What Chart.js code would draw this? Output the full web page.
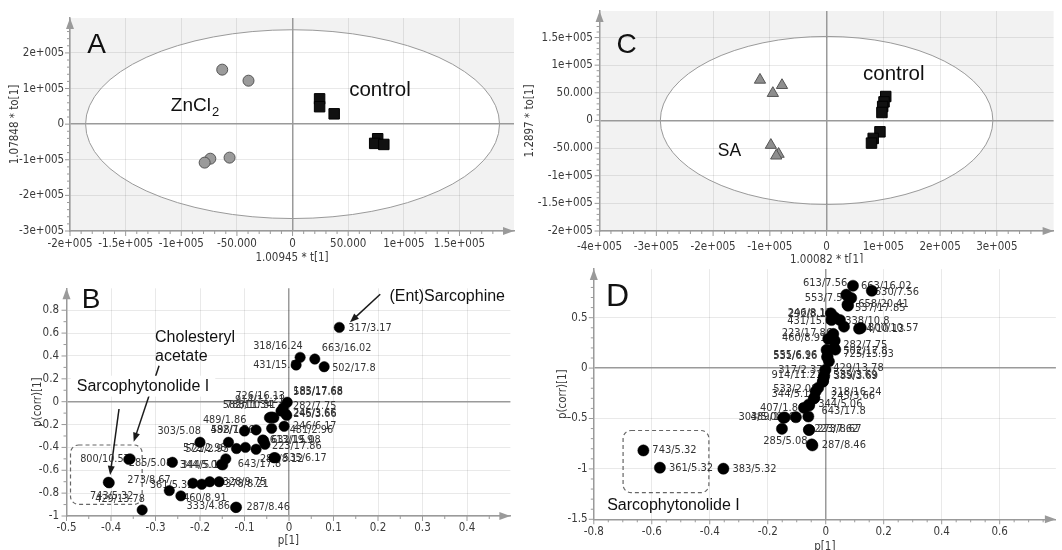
<!DOCTYPE html>
<html><head><meta charset="utf-8">
<script src="https://cdn.jsdelivr.net/npm/chart.js@4.4.0/dist/chart.umd.min.js"></script>
<style>
html,body{margin:0;padding:0;background:#fff;width:1062px;height:550px;overflow:hidden;}
canvas{position:absolute;}
</style></head><body>
<canvas id="cA" width="530" height="270" style="left:0;top:0"></canvas>
<canvas id="cB" width="530" height="280" style="left:0;top:270px"></canvas>
<canvas id="cC" width="547" height="263" style="left:515px;top:0"></canvas>
<canvas id="cD" width="532" height="287" style="left:530px;top:263px"></canvas>
<script>
// ---------- DATA ----------
// Panel A (OPLS-DA scores, ZnCl2 vs control)
const aZnX = [-63200, -39600, -73900, -79000, -56600];
const aZnY = [153000, 122000, -97000, -108000, -94000];
const aCtrlX = [24300, 24300, 37400, 76500, 73800, 82000];
const aCtrlY = [71000, 49000, 29000, -41000, -54000, -57000];
const aXTicks = [-200000, -150000, -100000, -50000, 0, 50000, 100000, 150000];
const aXTickLabels = ['-2e+005', '-1.5e+005', '-1e+005', '-50.000', '0', '50.000', '1e+005', '1.5e+005'];
const aYTicks = [-300000, -200000, -100000, 0, 100000, 200000];
const aYTickLabels = ['-3e+005', '-2e+005', '-1e+005', '0', '1e+005', '2e+005'];

// Panel C (OPLS-DA scores, SA vs control)
const cSaX = [-117400, -78600, -94700, -98200, -84600, -88800];
const cSaY = [73300, 63700, 49300, -44600, -60800, -63900];
const cCtrlX = [104200, 101200, 98800, 97500, 94000, 82100, 79100];
const cCtrlY = [43300, 33600, 25300, 14400, -20600, -32500, -41000];
const cXTicks = [-400000, -300000, -200000, -100000, 0, 100000, 200000, 300000];
const cXTickLabels = ['-4e+005', '-3e+005', '-2e+005', '-1e+005', '0', '1e+005', '2e+005', '3e+005'];
const cYTicks = [-200000, -150000, -100000, -50000, 0, 50000, 100000, 150000];
const cYTickLabels = ['-2e+005', '-1.5e+005', '-1e+005', '-50.000', '0', '50.000', '1e+005', '1.5e+005'];

// Panel B (S-plot, ZnCl2)
const bX = [0.113, 0.025, 0.058, 0.016, 0.079, -0.004, -0.013, -0.018, -0.007, -0.005, -0.044, -0.034, -0.041, -0.037, -0.011, -0.039, -0.100, -0.074, -0.059, -0.054, -0.057, -0.200, -0.136, -0.118, -0.098, -0.074, -0.031, -0.034, -0.142, -0.149, -0.152, -0.216, -0.196, -0.178, -0.157, -0.357, -0.360, -0.262, -0.406, -0.404, -0.269, -0.243, -0.330, -0.118, -0.120];
const bY = [0.65, 0.388, 0.373, 0.321, 0.306, -0.005, -0.052, -0.081, -0.11, -0.12, -0.14, -0.14, -0.135, -0.135, -0.215, -0.233, -0.256, -0.247, -0.335, -0.372, -0.34, -0.355, -0.355, -0.41, -0.40, -0.416, -0.49, -0.49, -0.50, -0.553, -0.548, -0.713, -0.722, -0.70, -0.70, -0.50, -0.505, -0.53, -0.705, -0.71, -0.778, -0.824, -0.947, -0.923, -0.925];
const bLabels = ['317/3.17', '318/16.24', '663/16.02', '431/15.8', '502/17.8', '585/17.68', '183/17.68', '282/7.75', '246/3.66', '245/3.66', '726/16.13', '914/11.21', '582/11.34', '788/10.31', '246/6.17', '481/2.96', '482/7.5', '598/1.86', '613/19.9', '223/17.86', '632/15.08', '303/5.08', '489/1.86', '572/2.98', '521/2.93', '', '535/6.17', '287/8.12', '643/17.8', '344/5.06', '344/5.1', '361/5.32', '', '328/9.75', '378/8.21', '800/10.57', '285/5.08', '', '743/5.32', '429/13.78', '273/8.67', '460/8.91', '', '287/8.46', '333/4.86'];
const bXTicks = [-0.5, -0.4, -0.3, -0.2, -0.1, 0, 0.1, 0.2, 0.3, 0.4];
const bXTickLabels = ['-0.5', '-0.4', '-0.3', '-0.2', '-0.1', '0', '0.1', '0.2', '0.3', '0.4'];
const bYTicks = [-1, -0.8, -0.6, -0.4, -0.2, 0, 0.2, 0.4, 0.6, 0.8];
const bYTickLabels = ['-1', '-0.8', '-0.6', '-0.4', '-0.2', '0', '0.2', '0.4', '0.6', '0.8'];

// Panel D (S-plot, SA)
const dX = [0.094, 0.159, 0.071, 0.088, 0.075, 0.077, 0.018, 0.031, 0.020, 0.049, 0.063, 0.121, 0.115, 0.026, 0.009, 0.031, 0.029, 0.033, 0.003, 0.006, 0.005, 0.011, -0.001, -0.005, -0.007, -0.009, -0.010, -0.026, -0.035, -0.039, -0.041, -0.058, -0.057, -0.075, -0.060, -0.103, -0.146, -0.142, -0.151, -0.058, -0.057, -0.046, -0.048, -0.629, -0.572, -0.353];
const dY = [0.817, 0.767, 0.728, 0.695, 0.629, 0.619, 0.543, 0.503, 0.477, 0.477, 0.411, 0.398, 0.391, 0.339, 0.289, 0.272, 0.200, 0.183, 0.180, 0.114, 0.109, 0.067, -0.018, -0.074, -0.094, -0.131, -0.134, -0.196, -0.233, -0.295, -0.302, -0.361, -0.371, -0.394, -0.480, -0.487, -0.493, -0.490, -0.602, -0.612, -0.614, -0.767, -0.757, -0.817, -0.988, -0.998];
const dLabels = ['663/16.02', '630/7.56', '613/7.56', '553/7.56', '658/20.41', '537/17.85', '246/8.12', '292/8.10', '431/15.8', '', '338/10.8', '800/10.57', '744/10.13', '', '223/17.86', '460/8.91', '282/7.75', '502/17.8', '725/15.93', '555/6.96', '531/6.16', '', '429/13.78', '317/2.37', '914/11.21', '535/3.69', '389/3.69', '533/2.08', '344/5.1', '318/16.24', '245/3.66', '344/5.06', '643/17.8', '407/1.86', '', '', '303/5.08', '489/1.86', '', '223/7.62', '273/8.67', '287/8.46', '285/5.08', '743/5.32', '361/5.32', '383/5.32'];
const dXTicks = [-0.8, -0.6, -0.4, -0.2, 0, 0.2, 0.4, 0.6];
const dXTickLabels = ['-0.8', '-0.6', '-0.4', '-0.2', '0', '0.2', '0.4', '0.6'];
const dYTicks = [-1.5, -1, -0.5, 0, 0.5];
const dYTickLabels = ['-1.5', '-1', '-0.5', '0', '0.5'];

// ---------- label placement (pixel offsets of each point label, style only) ----------
const bLabelOffsets = [[9,1],[-47,-11],[7,-11],[-43,0],[8,1],[6,-10.5],[10,-16],[12,-5],[7,-1],[6.5,-1.5],[-34,-22],[-39,-18],[-48,-12],[-46.5,-11.6],[9,0],[18,2],[-34,-1],[-45,0.5],[7,0],[7,2],[7.5,0],[-42.6,-10.6],[-25.6,-22.3],[-53.4,0],[-60,1.3],[0,0],[8,0],[-14,1.3],[12,5],[-43,0],[-40,1],[-43,2],[0,0],[13,0.5],[6,2],[-50,0],[0,3.3],[0,0],[-18.3,13.7],[-14,16],[-42,-10.7],[2.3,2.3],[0,0],[10,0],[-49,-1]];
const dLabelOffsets = [[8,0],[3,1],[-43.3,-11.3],[-46.6,0],[10.7,-0.7],[7,2],[-43.4,0],[-46.7,-3.2],[-44.3,0.7],[0,0],[1.3,-6],[7.3,0],[-5.3,0.3],[0,0],[-46.7,-5.6],[-52.7,-2.3],[9,-2.3],[8,1],[16.7,4],[-54.3,-1],[-54,-0.5],[0,0],[7.7,-2],[-46,-5.7],[-52.2,-2],[10,-5.7],[11,-5],[-45,1],[-44,2.3],[16.7,-5.6],[17,-2],[9.3,-0.7],[12.3,5.7],[-44,0],[0,0],[0,0],[-45,-0.6],[-34,0],[0,0],[5.3,-1],[8,-0.5],[9.3,0],[-48.5,-3],[9,0],[9,0],[9,0]];

// ---------- rendering ----------
const NARROW = '"Liberation Sans Narrow","Arial Narrow","DejaVu Sans Condensed",sans-serif';
const SANS = '"Liberation Sans",Arial,sans-serif';
const AXIS = '#9a9a9a';
const zip = (xs, ys) => xs.map((x, i) => ({x: x, y: ys[i]}));

function makePlugin(c) {
  return {
    id: 'annot',
    beforeDraw(chart) {
      const {ctx, chartArea: a, scales: {x, y}} = chart;
      ctx.save();
      if (c.bg) { ctx.fillStyle = c.bg; ctx.fillRect(a.left, a.top, a.right - a.left, a.bottom - a.top); }
      if (c.ellipse) {
        const cx = x.getPixelForValue(0), cy = y.getPixelForValue(0);
        const rx = Math.abs(x.getPixelForValue(c.ellipse[0]) - cx), ry = Math.abs(y.getPixelForValue(c.ellipse[1]) - cy);
        ctx.beginPath(); ctx.ellipse(cx, cy, rx, ry, 0, 0, 2 * Math.PI); ctx.fillStyle = '#fff'; ctx.fill();
      }
      ctx.restore();
    },
    beforeDatasetsDraw(chart) {
      const {ctx, scales: {x, y}} = chart;
      const X = v => x.getPixelForValue(v), Y = v => y.getPixelForValue(v);
      ctx.save();
      if (c.ellipse) {
        const cx = X(0), cy = Y(0);
        ctx.beginPath(); ctx.ellipse(cx, cy, Math.abs(X(c.ellipse[0]) - cx), Math.abs(Y(c.ellipse[1]) - cy), 0, 0, 2 * Math.PI);
        ctx.strokeStyle = '#9a9a9a'; ctx.lineWidth = 1; ctx.stroke();
      }
      (c.boxes || []).forEach(b => {
        const x1 = X(b[0]), x2 = X(b[1]), y1 = Y(b[2]), y2 = Y(b[3]);
        ctx.beginPath(); ctx.setLineDash([4, 3]); ctx.strokeStyle = '#666'; ctx.lineWidth = 1.2;
        ctx.roundRect(Math.min(x1, x2), Math.min(y1, y2), Math.abs(x2 - x1), Math.abs(y2 - y1), 8);
        ctx.stroke(); ctx.setLineDash([]);
      });
      (c.arrows || []).forEach(r => {
        const x1 = X(r[0]), y1 = Y(r[1]), x2 = X(r[2]), y2 = Y(r[3]);
        const ang = Math.atan2(y2 - y1, x2 - x1), L = 9, W = 3.5;
        ctx.strokeStyle = '#1a1a1a'; ctx.fillStyle = '#1a1a1a'; ctx.lineWidth = 1.5;
        ctx.beginPath(); ctx.moveTo(x1, y1); ctx.lineTo(x2 - Math.cos(ang) * L * 0.8, y2 - Math.sin(ang) * L * 0.8); ctx.stroke();
        ctx.beginPath(); ctx.moveTo(x2, y2);
        ctx.lineTo(x2 - Math.cos(ang) * L + Math.sin(ang) * W, y2 - Math.sin(ang) * L - Math.cos(ang) * W);
        ctx.lineTo(x2 - Math.cos(ang) * L - Math.sin(ang) * W, y2 - Math.sin(ang) * L + Math.cos(ang) * W);
        ctx.closePath(); ctx.fill();
      });
      (c.texts || []).forEach(t => {
        ctx.font = t.size + 'px ' + SANS; ctx.textAlign = 'left'; ctx.textBaseline = 'alphabetic';
        const px = X(t.x), py = Y(t.y);
        const w = ctx.measureText(t.t).width;
        if (t.bg) { ctx.fillStyle = t.bg; ctx.fillRect(px - 6, py - t.size * 0.95, w + 12, t.size * 1.3); }
        ctx.fillStyle = '#111'; ctx.fillText(t.t, px, py);
        if (t.sub) { ctx.font = Math.round(t.size * 0.68) + 'px ' + SANS; ctx.fillText(t.sub, px + w + 1, py + t.size * 0.28); }
      });
      if (c.pl) {
        ctx.font = c.pl.size + 'px ' + NARROW; ctx.fillStyle = '#333'; ctx.textAlign = 'left'; ctx.textBaseline = 'middle';
        c.pl.xs.forEach((v, i) => {
          const s = c.pl.labels[i]; if (!s) return;
          const o = c.pl.off[i];
          ctx.fillText(s, X(v) + o[0], Y(c.pl.ys[i]) + o[1]);
        });
      }
      ctx.restore();
    },
    afterDraw(chart) {
      const {ctx, chartArea: a, scales: {x, y}} = chart;
      ctx.save();
      ctx.strokeStyle = AXIS; ctx.lineWidth = 1;
      const mt = (scale, step, sub, isX) => {
        const ms = step / sub;
        const start = Math.ceil(scale.min / ms - 1e-6);
        const end = Math.floor(scale.max / ms + 1e-6);
        for (let k = start; k <= end; k++) {
          const p = scale.getPixelForValue(k * ms);
          const len = (k % sub === 0) ? 5 : 3;
          ctx.beginPath();
          if (isX) { if (p > a.right - 12) continue; ctx.moveTo(p, a.bottom); ctx.lineTo(p, a.bottom + len); }
          else { if (p < a.top + 12) continue; ctx.moveTo(a.left - len, p); ctx.lineTo(a.left, p); }
          ctx.stroke();
        }
      };
      mt(x, c.xStep, c.xSub, true);
      mt(y, c.yStep, c.ySub, false);
      ctx.fillStyle = AXIS;
      ctx.beginPath(); ctx.moveTo(a.left, a.top); ctx.lineTo(a.left - 4, a.top + 11); ctx.lineTo(a.left + 4, a.top + 11); ctx.closePath(); ctx.fill();
      ctx.beginPath(); ctx.moveTo(a.right, a.bottom); ctx.lineTo(a.right - 11, a.bottom - 4); ctx.lineTo(a.right - 11, a.bottom + 4); ctx.closePath(); ctx.fill();
      ctx.restore();
    }
  };
}

function makeChart(id, c) {
  const grid = {
    color: g => (g.tick && g.tick.value === 0) ? AXIS : 'rgba(0,0,0,0.085)',
    lineWidth: g => (g.tick && g.tick.value === 0) ? 1.5 : 1,
    drawTicks: false
  };
  const tickFont = {family: NARROW, size: 11.5};
  return new Chart(document.getElementById(id), {
    type: 'scatter',
    data: {datasets: c.datasets},
    options: {
      responsive: false, animation: false, devicePixelRatio: 1, events: [],
      layout: {padding: {left: 0, top: c.padTop, right: c.padRight, bottom: 0}},
      plugins: {legend: {display: false}, tooltip: {enabled: false}},
      scales: {
        x: {
          type: 'linear', min: c.xMin, max: c.xMax,
          afterBuildTicks: s => { s.ticks = c.xTicks.map(v => ({value: v})); },
          afterFit: s => { s.height = c.xH; s.paddingLeft = 0; s.paddingRight = 0; },
          ticks: {callback: (v, i) => c.xTickLabels[i], font: tickFont, color: '#3a3a3a', padding: c.xTickPad, maxRotation: 0, autoSkip: false},
          grid: grid,
          border: {color: AXIS, width: 1.5},
          title: {display: true, text: c.xTitle, font: tickFont, color: '#3a3a3a', padding: {top: 0, bottom: c.xTitlePad}}
        },
        y: {
          type: 'linear', min: c.yMin, max: c.yMax,
          afterBuildTicks: s => { s.ticks = c.yTicks.map(v => ({value: v})); },
          afterFit: s => { s.width = c.yW; s.paddingTop = 0; s.paddingBottom = 0; },
          ticks: {callback: (v, i) => c.yTickLabels[i], font: tickFont, color: '#3a3a3a', padding: c.yTickPad, autoSkip: false},
          grid: grid,
          border: {color: AXIS, width: 1.5},
          title: {display: true, text: c.yTitle, font: tickFont, color: '#3a3a3a', padding: {top: c.yTitlePad, bottom: 0}}
        }
      }
    },
    plugins: [makePlugin(c)]
  });
}

// Panel A
makeChart('cA', {
  xMin: -200000, xMax: 199000, yMin: -300000, yMax: 298000,
  xTicks: aXTicks, xTickLabels: aXTickLabels, yTicks: aYTicks, yTickLabels: aYTickLabels,
  padTop: 18, padRight: 16, yW: 70, xH: 39, xTickPad: 6.4, yTickPad: 5.8, xTitlePad: 5.1, yTitlePad: 8.1,
  xTitle: '1.00945 * t[1]', yTitle: '1.07848 * to[1]',
  xStep: 50000, xSub: 5, yStep: 100000, ySub: 5,
  bg: '#f2f2f2', ellipse: [186000, 265000],
  texts: [
    {t: 'A', x: -184500, y: 200000, size: 28},
    {t: 'ZnCl', sub: '2', x: -109400, y: 36400, size: 19},
    {t: 'control', x: 50900, y: 78400, size: 20.5}
  ],
  datasets: [
    {data: zip(aZnX, aZnY), pointStyle: 'circle', pointRadius: 5.5, backgroundColor: '#9b9b9b', borderColor: '#555', borderWidth: 1},
    {data: zip(aCtrlX, aCtrlY), pointStyle: 'rect', pointRadius: 7.4, backgroundColor: '#111', borderColor: '#000', borderWidth: 1}
  ]
});

// Panel C
makeChart('cC', {
  xMin: -400000, xMax: 400000, yMin: -200000, yMax: 198000,
  xTicks: cXTicks, xTickLabels: cXTickLabels, yTicks: cYTicks, yTickLabels: cYTickLabels,
  padTop: 11, padRight: 6, yW: 84.6, xH: 32, xTickPad: 8.8, yTickPad: 6.8, xTitlePad: -3.9, yTitlePad: 8.1,
  xTitle: '1.00082 * t[1]', yTitle: '1.2897 * to[1]',
  xStep: 100000, xSub: 5, yStep: 50000, ySub: 5,
  bg: '#f2f2f2', ellipse: [293000, 152000],
  texts: [
    {t: 'C', x: -370400, y: 122700, size: 28},
    {t: 'control', x: 64200, y: 72700, size: 20.5},
    {t: 'SA', x: -191800, y: -65000, size: 17.5}
  ],
  datasets: [
    {data: zip(cSaX, cSaY), pointStyle: 'triangle', pointRadius: 6.5, backgroundColor: '#8e8e8e', borderColor: '#555', borderWidth: 1},
    {data: zip(cCtrlX, cCtrlY), pointStyle: 'rect', pointRadius: 7.4, backgroundColor: '#111', borderColor: '#000', borderWidth: 1}
  ]
});

// Panel B
makeChart('cB', {
  xMin: -0.5, xMax: 0.4975, yMin: -1, yMax: 0.992,
  xTicks: bXTicks, xTickLabels: bXTickLabels, yTicks: bYTicks, yTickLabels: bYTickLabels,
  padTop: 18.3, padRight: 19.6, yW: 66.5, xH: 34, xTickPad: 5.4, yTickPad: 7.5, xTitlePad: 2.4, yTitlePad: 31,
  xTitle: 'p[1]', yTitle: 'p(corr)[1]',
  xStep: 0.1, xSub: 2, yStep: 0.2, ySub: 2,
  boxes: [[-0.491, -0.33, -0.379, -0.898]],
  arrows: [[0.205, 0.94, 0.137, 0.695], [-0.292, 0.315, -0.349, -0.35], [-0.382, -0.064, -0.402, -0.641]],
  texts: [
    {t: 'B', x: -0.466, y: 0.82, size: 28},
    {t: '(Ent)Sarcophine', x: 0.2256, y: 0.884, size: 16},
    {t: 'Cholesteryl', x: -0.301, y: 0.522, size: 16},
    {t: 'acetate', x: -0.301, y: 0.356, size: 16},
    {t: 'Sarcophytonolide I', x: -0.477, y: 0.094, size: 16, bg: '#fff'}
  ],
  pl: {xs: bX, ys: bY, labels: bLabels, off: bLabelOffsets, size: 10.8},
  datasets: [
    {data: zip(bX, bY), pointStyle: 'circle', pointRadius: 5.2, backgroundColor: '#000', borderColor: '#000', borderWidth: 0.5}
  ]
});

// Panel D
makeChart('cD', {
  xMin: -0.8, xMax: 0.794, yMin: -1.5, yMax: 0.982,
  xTicks: dXTicks, xTickLabels: dXTickLabels, yTicks: dYTicks, yTickLabels: dYTickLabels,
  padTop: 5.3, padRight: 2.6, yW: 63.8, xH: 30.7, xTickPad: 5.5, yTickPad: 6.1, xTitlePad: -3.6, yTitlePad: 26,
  xTitle: 'p[1]', yTitle: 'p(corr)[1]',
  xStep: 0.2, xSub: 4, yStep: 0.5, ySub: 5,
  boxes: [[-0.699, -0.403, -0.619, -1.236]],
  texts: [
    {t: 'D', x: -0.758, y: 0.619, size: 32},
    {t: 'Sarcophytonolide I', x: -0.754, y: -1.411, size: 16}
  ],
  pl: {xs: dX, ys: dY, labels: dLabels, off: dLabelOffsets, size: 11},
  datasets: [
    {data: zip(dX, dY), pointStyle: 'circle', pointRadius: 5.6, backgroundColor: '#000', borderColor: '#000', borderWidth: 0.5}
  ]
});
</script>
</body></html>
